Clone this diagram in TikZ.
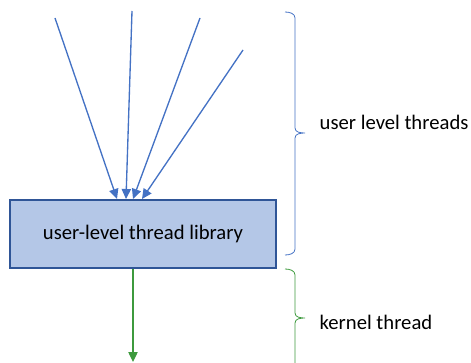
\documentclass[tikz,border=0pt]{standalone}
\usepackage{fontspec}
\setmainfont{Carlito}
\usetikzlibrary{arrows.meta,positioning,calc}
\definecolor{userblue}{HTML}{4472C4}
\definecolor{boxfill}{HTML}{B4C7E7}
\definecolor{boxline}{HTML}{2F5597}
\definecolor{kgreen}{HTML}{3D9A3D}
\begin{document}
\begin{tikzpicture}[x=0.75pt,y=-0.75pt,
    thread/.style={userblue, line width=1pt, -{Triangle[length=7.5pt,width=7pt]}},
    kthread/.style={kgreen, line width=1pt, -{Triangle[length=7.5pt,width=7pt]}},
    libbox/.style={draw=boxline, fill=boxfill, line width=1pt, minimum width=266*0.75pt, minimum height=68*0.75pt, font=\fontsize{15.5}{18}\selectfont},
    label/.style={font=\fontsize{15.5}{18}\selectfont, anchor=west}]
    \useasboundingbox (0,0) rectangle (471,363);

    % Library box
    \node[libbox] (lib) at (143,234) {user-level thread library};

    % User level threads
    \coordinate (t1) at (55,18);
    \coordinate (t2) at (132,11);
    \coordinate (t3) at (200,18);
    \coordinate (t4) at (243,50);
    \draw[thread] (t1) -- (117,199);
    \draw[thread] (t2) -- (126,199);
    \draw[thread] (t3) -- (133,199);
    \draw[thread] (t4) -- (142,199);

    % Kernel thread
    \coordinate (k) at (133,362);
    \draw[kthread] (lib.south -| k) -- (k);

    % Braces
    \draw[userblue, line width=0.6pt] (285,12) to[out=0, in=90] (295,18) -- (295,128)
        to[out=-90, in=180] (305,133) to[out=180, in=90] (295,138) -- (295,249)
        to[out=-90, in=0] (285,255);
    \draw[kgreen, line width=0.6pt] (285,269) to[out=0, in=90] (295,275) -- (295,313)
        to[out=-90, in=180] (305,318) to[out=180, in=90] (295,323) -- (295,363);

    % Labels
    \node[label] (ulabel) at (315,122) {user level threads};
    \node[label] (klabel) at (315,322) {kernel thread};
\end{tikzpicture}
\end{document}
